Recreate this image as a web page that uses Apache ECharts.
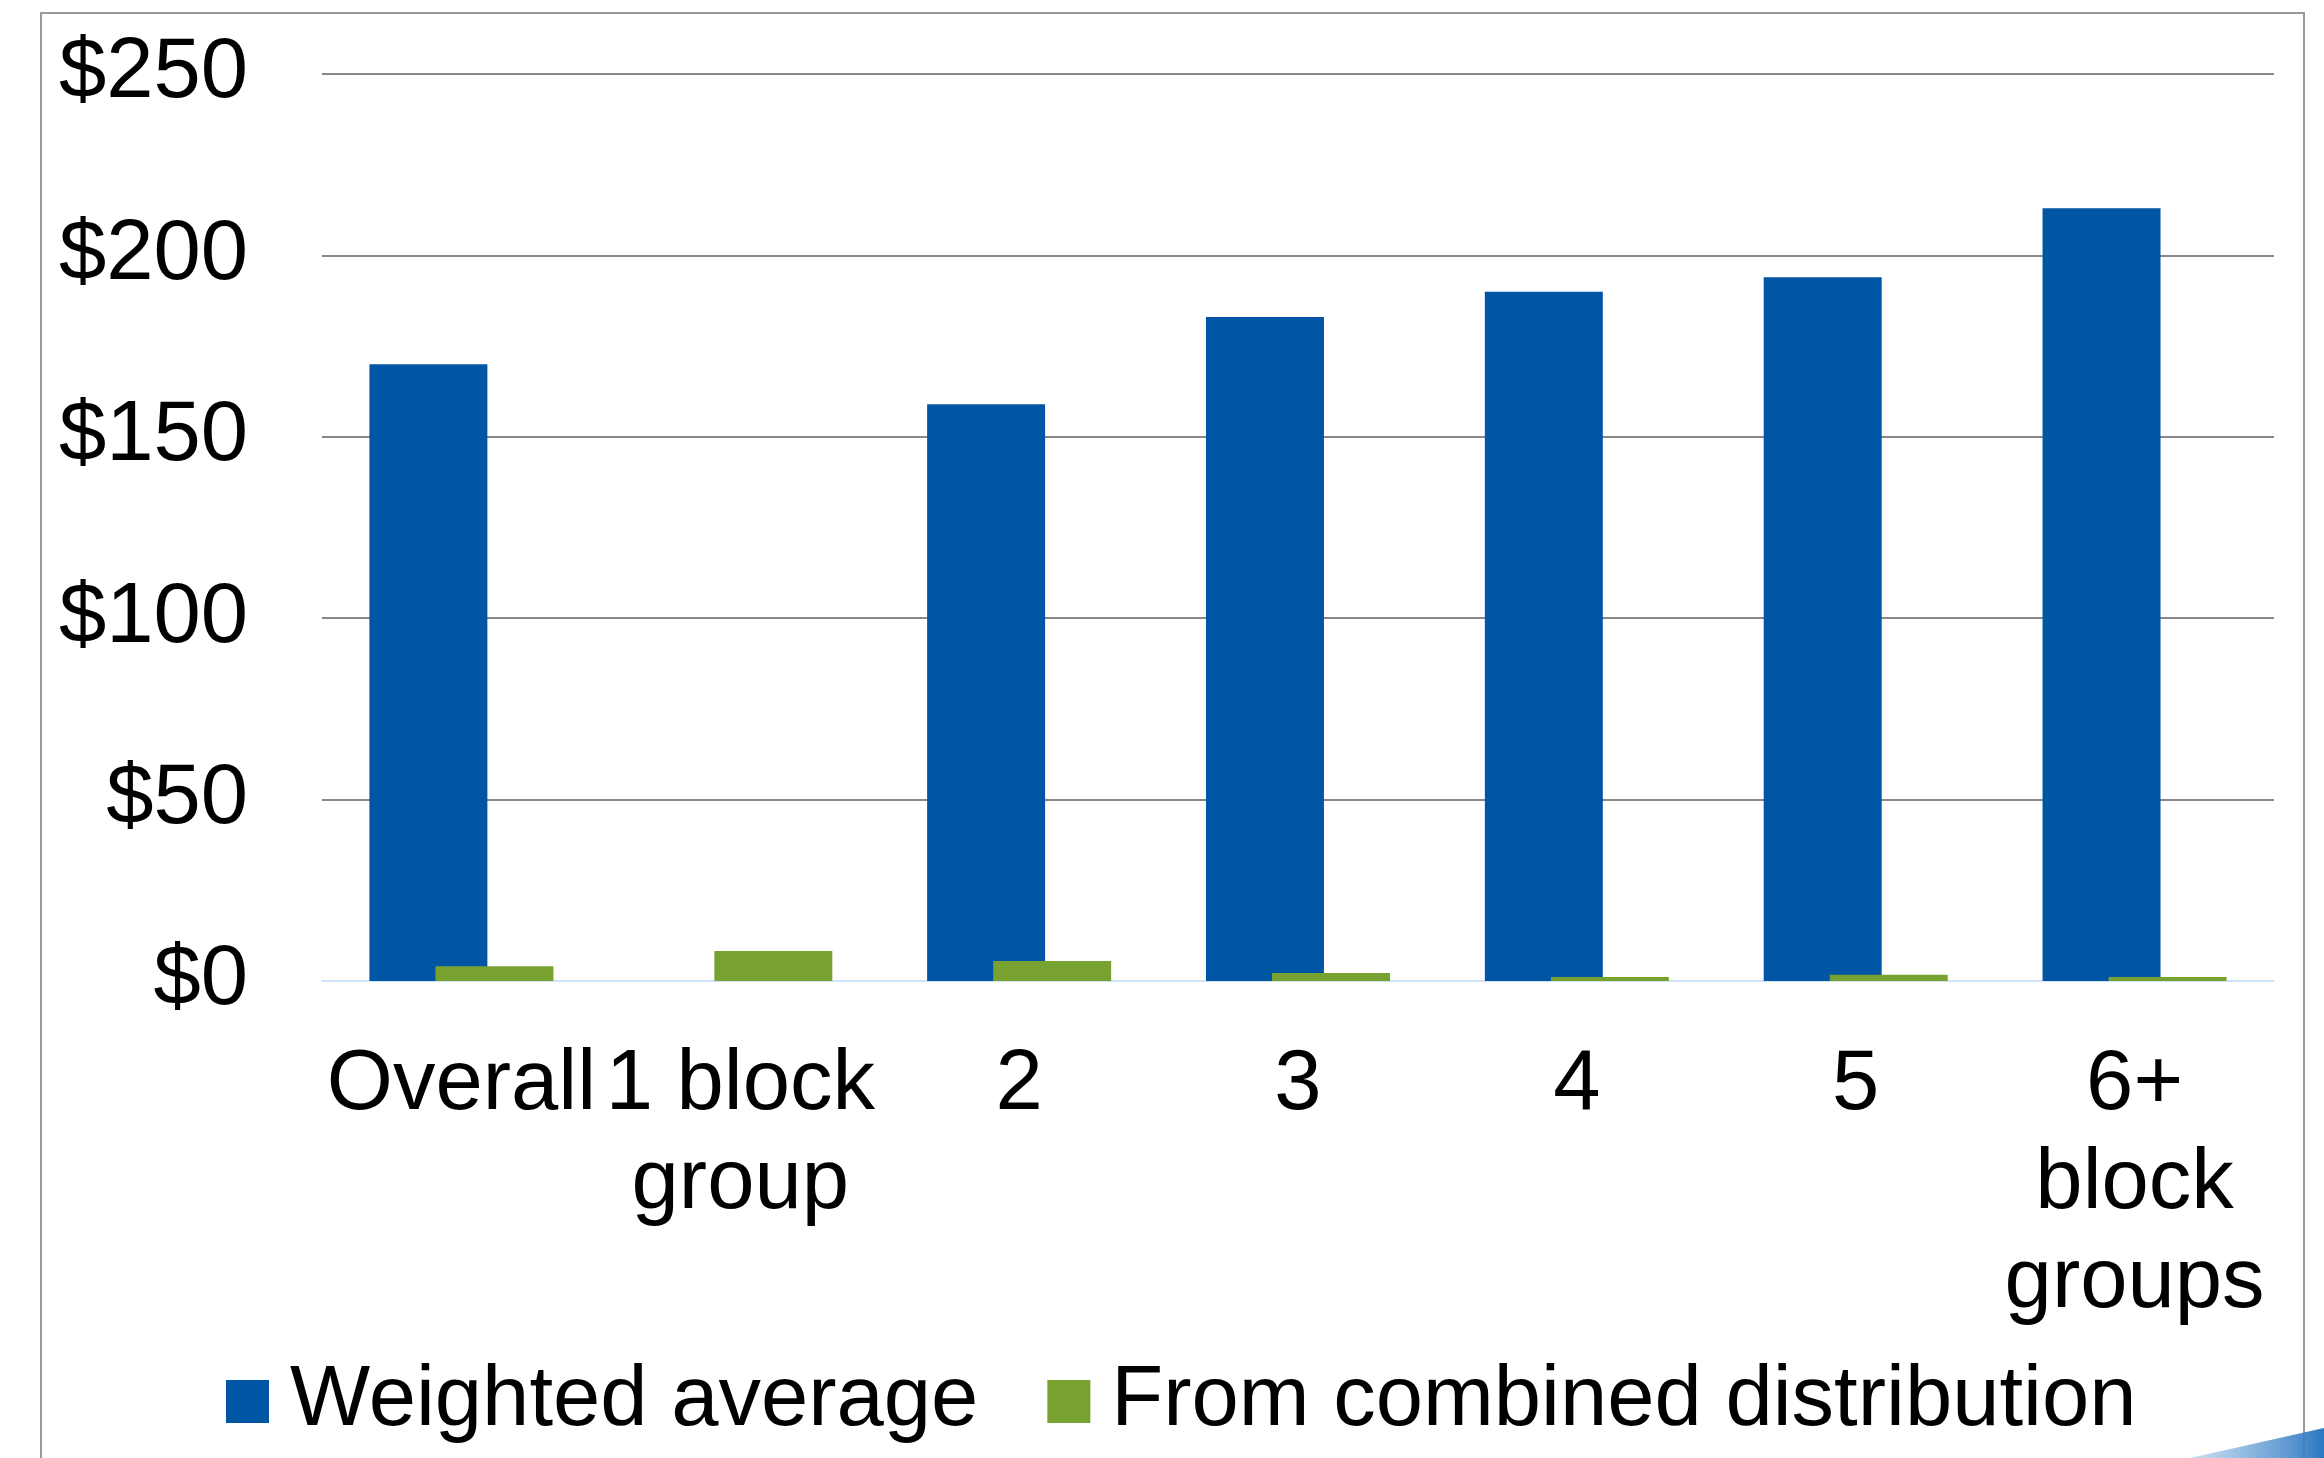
<!DOCTYPE html>
<html>
<head>
<meta charset="utf-8">
<style>
  html, body { margin: 0; padding: 0; background: #fff; }
  #chart { width: 2324px; height: 1458px; }
</style>
<script src="https://cdn.jsdelivr.net/npm/echarts@6/dist/echarts.min.js"></script>
</head>
<body>
<div id="chart"></div>
<script>
  // data
  const categories = ['Overall', '1 block\ngroup', '2', '3', '4', '5', '6+\nblock\ngroups']
  const weightedAvg = [170, '-', 159, 183, 190, 194, 213]
  const combinedDist = [4.1, 8.3, 5.5, 2.2, 1.1, 1.7, 1.1]
  const seriesNames = ['Weighted average', 'From combined distribution']

  const font = 'Liberation Sans, Arial, sans-serif'
  const chart = echarts.init(document.getElementById('chart'))

  chart.setOption({
    animation: false,
    backgroundColor: '#fff',
    grid: {
      left: 322,
      right: 50,
      top: 74,
      bottom: 477
    },
    legend: {
      data: seriesNames,
      left: 221,
      top: 1354,
      icon: 'rect',
      itemWidth: 43,
      itemHeight: 43,
      itemGap: 69,
      textStyle: {
        fontFamily: font,
        fontSize: 85,
        color: '#000',
        padding: [0, 0, 0, 16]
      }
    },
    xAxis: {
      type: 'category',
      data: categories,
      axisTick: { show: false },
      axisLine: { lineStyle: { color: '#cfe5f7', width: 2 } },
      axisLabel: {
        interval: 0,
        margin: 55,
        fontFamily: font,
        fontSize: 85,
        lineHeight: 99,
        color: '#000'
      }
    },
    yAxis: {
      type: 'value',
      min: 0,
      max: 250,
      interval: 50,
      axisLine: { show: false },
      axisTick: { show: false },
      splitLine: { lineStyle: { color: '#888', width: 2 } },
      axisLabel: {
        margin: 74,
        fontFamily: font,
        fontSize: 85,
        color: '#000',
        formatter: function (v) { return '$' + v }
      }
    },
    series: [
      {
        name: seriesNames[0],
        type: 'bar',
        data: weightedAvg,
        barCategoryGap: '34%',
        barGap: '-44%',
        itemStyle: { color: '#0055a5' }
      },
      {
        name: seriesNames[1],
        type: 'bar',
        data: combinedDist,
        itemStyle: { color: '#78a22f' }
      }
    ],
    graphic: [
      {
        type: 'rect',
        silent: true,
        shape: { x: 41, y: 13, width: 2263, height: 1500 },
        style: { fill: 'none', stroke: '#999', lineWidth: 2 }
      },
      {
        type: 'polygon',
        silent: true,
        shape: { points: [[2190, 1458], [2324, 1428], [2324, 1458]] },
        style: {
          fill: new echarts.graphic.LinearGradient(0, 0, 1, 0, [
            { offset: 0, color: 'rgba(120,170,220,0.4)' },
            { offset: 1, color: '#2a78c0' }
          ])
        }
      }
    ]
  })
</script>
</body>
</html>
